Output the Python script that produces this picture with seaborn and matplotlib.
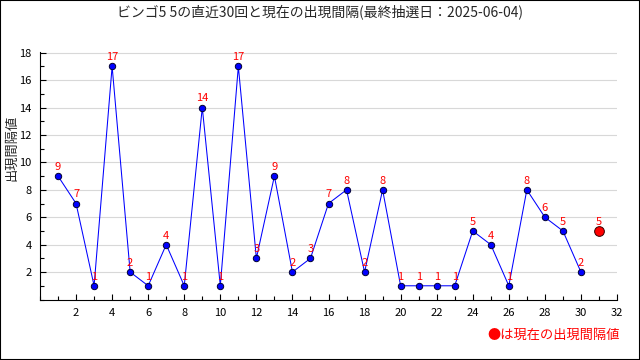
import numpy as np
import pandas as pd
import matplotlib
matplotlib.use('Agg')
import matplotlib.pyplot as plt
import seaborn as sns
from matplotlib.ticker import MultipleLocator

# Data
draws = list(range(1, 31))
intervals = [9, 7, 1, 17, 2, 1, 4, 1, 14, 1, 17, 3, 9, 2, 3, 7, 8, 2, 8, 1,
             1, 1, 1, 5, 4, 1, 8, 6, 5, 2]
current_x = 31
current_val = 5

title = 'ビンゴ5 5の直近30回と現在の出現間隔(最終抽選日：2025-06-04)'
ylabel = '出現間隔値'
note = '●は現在の出現間隔値'

sns.set_style('white')
plt.rcParams['font.family'] = ['Noto Sans CJK JP', 'DejaVu Sans']

df = pd.DataFrame({'draw': draws, 'interval': intervals})

fig = plt.figure(figsize=(6.4, 3.6), dpi=100)
ax = fig.add_axes([40 / 640, 1 - 299.5 / 360, 577 / 640, 247.5 / 360])

ax.grid(axis='y', color='#d8d8d8', linewidth=0.8)
ax.set_axisbelow(True)

sns.lineplot(data=df, x='draw', y='interval', ax=ax, color='#0000ff',
             linewidth=0.75, marker='o', markersize=4.6,
             markerfacecolor='#0000ff', markeredgecolor='#000033',
             markeredgewidth=0.7)
ax.plot([current_x], [current_val], 'o', color='red', markersize=7,
        markeredgecolor='#330000', markeredgewidth=0.7, zorder=5)

for x, v in zip(draws, intervals):
    ax.text(x, v + 0.3, str(v), color='red', ha='center', va='bottom', fontsize=8)
ax.text(current_x, current_val + 0.3, str(current_val), color='red',
        ha='center', va='bottom', fontsize=8)

ax.set_xlim(0, 32)
ax.set_ylim(0, 18.05)
ax.xaxis.set_minor_locator(MultipleLocator(1))
ax.yaxis.set_minor_locator(MultipleLocator(1))
ax.set_xticks(range(2, 33, 2))
ax.set_yticks(range(2, 19, 2))
ax.tick_params(which='both', direction='in', length=4, width=0.8, colors='black',
               labelsize=8, bottom=True, left=True)
ax.tick_params(which='minor', length=3)
ax.tick_params(axis='x', pad=6)
ax.tick_params(axis='y', pad=6)
ax.set_xlabel('')
ax.set_ylabel('')
for s in ['top', 'right']:
    ax.spines[s].set_visible(False)
for s in ['left', 'bottom']:
    ax.spines[s].set_color('black')
    ax.spines[s].set_linewidth(0.8)

fig.text(0.5, 1 - 12 / 360, title, ha='center', va='center', fontsize=10)
fig.text(12 / 640, 1 - 148 / 360, ylabel, ha='center', va='center',
         rotation=90, fontsize=9.5)
fig.text(620 / 640, 1 - 335 / 360, note, ha='right', va='center',
         fontsize=9.5, color='red')

fig.patches.append(plt.Rectangle((0, 0), 1, 1, transform=fig.transFigure,
                                 fill=False, edgecolor='black', linewidth=1.5))

fig.savefig('out.png', dpi=100)
